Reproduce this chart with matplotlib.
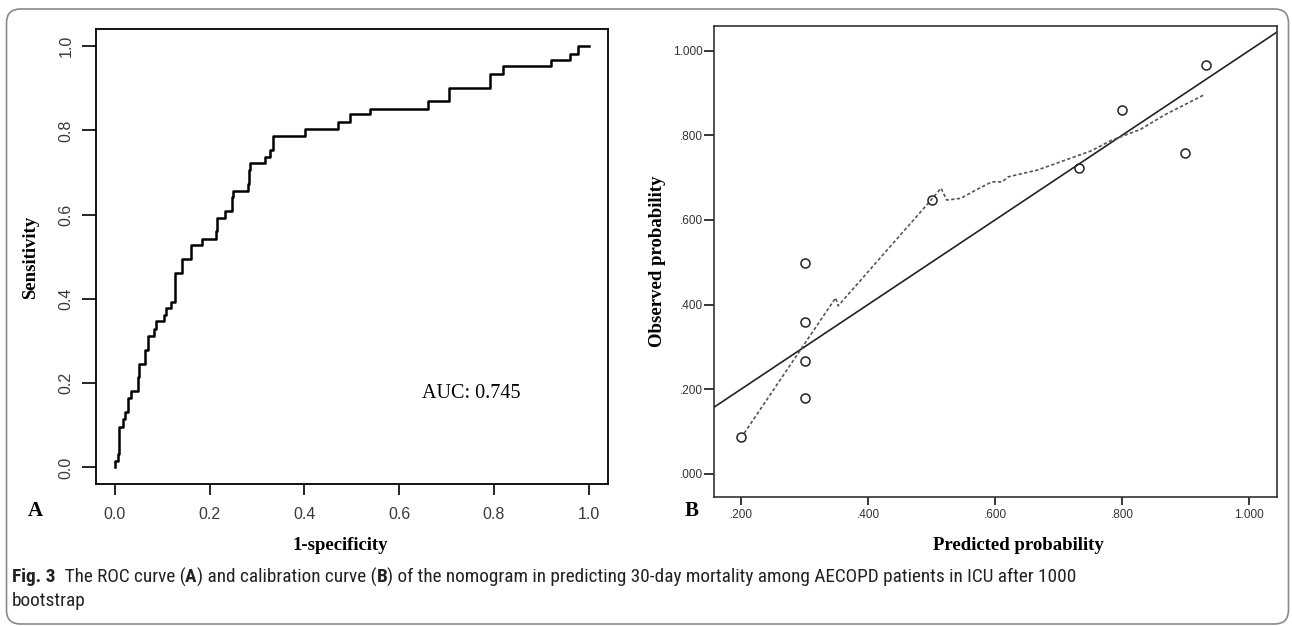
import matplotlib
matplotlib.use("Agg")
import matplotlib.pyplot as plt
from matplotlib import font_manager
from matplotlib.patches import FancyBboxPatch
from matplotlib.transforms import IdentityTransform

W, H = 1292, 626

# Panel A: ROC curve corners (1-specificity, sensitivity)
roc_fpr = [0.000, 0.000, 0.006, 0.008, 0.016, 0.022, 0.027, 0.034, 0.049, 0.051,
           0.064, 0.070, 0.083, 0.087, 0.103, 0.107, 0.119, 0.127, 0.142, 0.161,
           0.184, 0.213, 0.215, 0.233, 0.246, 0.248, 0.250, 0.281, 0.283, 0.285,
           0.317, 0.328, 0.334, 0.402, 0.470, 0.496, 0.539, 0.660, 0.705, 0.792,
           0.818, 0.920, 0.961, 0.978, 1.000]
roc_tpr = [0.000, 0.015, 0.031, 0.096, 0.116, 0.131, 0.164, 0.182, 0.214, 0.245,
           0.279, 0.311, 0.328, 0.347, 0.361, 0.378, 0.393, 0.461, 0.494, 0.527,
           0.543, 0.561, 0.592, 0.608, 0.624, 0.641, 0.656, 0.672, 0.705, 0.723,
           0.738, 0.753, 0.786, 0.803, 0.821, 0.838, 0.852, 0.869, 0.901, 0.934,
           0.953, 0.967, 0.982, 1.000, 1.000]
auc_label = "AUC: 0.745"
roc_ticks = [0.0, 0.2, 0.4, 0.6, 0.8, 1.0]

# Panel B: calibration points and smoothed curve
cal_pred = [0.200, 0.300, 0.300, 0.300, 0.300, 0.500, 0.732, 0.800, 0.899, 0.932]
cal_obs = [0.086, 0.499, 0.360, 0.266, 0.179, 0.648, 0.722, 0.859, 0.758, 0.965]
fit_x = [0.205, 0.349, 0.353, 0.498, 0.515, 0.524, 0.546, 0.569, 0.595, 0.611,
         0.621, 0.667, 0.725, 0.751, 0.783, 0.829, 0.868, 0.931]
fit_y = [0.096, 0.416, 0.397, 0.645, 0.675, 0.647, 0.651, 0.670, 0.690, 0.690,
         0.702, 0.718, 0.749, 0.763, 0.788, 0.814, 0.849, 0.897]
cal_xticks = [0.2, 0.4, 0.6, 0.8, 1.0]
cal_yticks = [0.0, 0.2, 0.4, 0.6, 0.8, 1.0]

caption_parts = [("Fig. 3", "bold"), ("  The ROC curve (", "normal"), ("A", "bold"),
                 (") and calibration curve (", "normal"), ("B", "bold"),
                 (") of the nomogram in predicting 30-day mortality among AECOPD "
                  "patients in ICU after 1000", "normal")]
caption_line2 = "bootstrap"

serif = "Liberation Serif"
sans = "Liberation Sans"
installed = {f.name for f in font_manager.fontManager.ttflist}
cap_font = next((n for n in ["Liberation Sans Narrow", "Roboto Condensed",
                             "Open Sans Condensed", "Noto Sans"] if n in installed), sans)


def fx(px):
    return px / W


def fy(py):
    return 1 - py / H


fig = plt.figure(figsize=(W / 100, H / 100), dpi=100)
fig.patch.set_facecolor("white")

# rounded frame around the whole figure
frame = FancyBboxPatch((6.5, 2), 1282, 615, boxstyle="round,pad=0,rounding_size=14",
                       transform=IdentityTransform(), fill=False, ec="#8a8a8a", lw=1.2)
fig.patches.append(frame)

# ---- Panel A ----
axA = fig.add_axes([fx(96), fy(484.3), fx(607.7) - fx(96), fy(29.3) - fy(484.3)])
axA.step(roc_fpr, roc_tpr, where="post", color="black", lw=1.8)
axA.set_xlim(-0.04, 1.04)
axA.set_ylim(-0.04, 1.04)
axA.set_xticks(roc_ticks)
axA.set_yticks(roc_ticks)
axA.set_xticklabels([f"{t:.1f}" for t in roc_ticks], family=sans, fontsize=11.5, color="#3a3a3a")
axA.set_yticklabels([f"{t:.1f}" for t in roc_ticks], family=sans, fontsize=11.5, color="#3a3a3a",
                    rotation=90, va="center")
axA.tick_params(axis="x", length=8, width=1.2, pad=8)
axA.tick_params(axis="y", length=10, width=1.2, pad=6)
for s in axA.spines.values():
    s.set_linewidth(1.3)
axA.text(0.752, 0.175, auc_label, family=serif, fontsize=14.5, ha="center", va="center")

fig.text(fx(31), fy(257), "Sensitivity", family=serif, fontweight="bold", fontsize=13.5,
         rotation=90, ha="center", va="center")
fig.text(fx(340), fy(545), "1-specificity", family=serif, fontweight="bold", fontsize=13.5,
         ha="center", va="center")
fig.text(fx(35), fy(511), "A", family=serif, fontweight="bold", fontsize=15,
         ha="center", va="center")

# ---- Panel B ----
axB = fig.add_axes([fx(713.7), fy(496.7), fx(1277) - fx(713.7), fy(25.7) - fy(496.7)])
axB.axline((0, 0), slope=1, color="#222222", lw=1.2)
axB.plot(fit_x, fit_y, color="#555555", lw=1.2, ls=(0, (2, 1.4)))
axB.plot(cal_pred, cal_obs, ls="none", marker="o", ms=6.5, mfc="none", mec="#222222", mew=1.1)
axB.set_xlim(0.157, 1.044)
axB.set_ylim(-0.054, 1.059)


def spss_fmt(v):
    s = f"{v:.3f}"
    return s[1:] if s.startswith("0") else s


axB.set_xticks(cal_xticks)
axB.set_yticks(cal_yticks)
axB.set_xticklabels([spss_fmt(t) for t in cal_xticks], family=sans, fontsize=8.5, color="#333333")
axB.set_yticklabels([spss_fmt(t) for t in cal_yticks], family=sans, fontsize=8.5, color="#333333")
axB.tick_params(axis="x", length=6, width=1.1, pad=3)
axB.tick_params(axis="y", length=7, width=1.1, pad=1)
for s in axB.spines.values():
    s.set_linewidth(1.2)
    s.set_color("#333333")

fig.text(fx(657), fy(261), "Observed probability", family=serif, fontweight="bold",
         fontsize=13.5, rotation=90, ha="center", va="center")
fig.text(fx(1018), fy(545), "Predicted probability", family=serif, fontweight="bold",
         fontsize=13.5, ha="center", va="center")
fig.text(fx(691.7), fy(511), "B", family=serif, fontweight="bold", fontsize=15,
         ha="center", va="center")

# ---- Caption: size chosen so the first line spans the same width ----
renderer = fig.canvas.get_renderer()
target_w = 1071 - 12


def place_line(parts, x0, y, size, draw=True):
    x = x0
    made = []
    for txt, weight in parts:
        t = fig.text(fx(x), fy(y), txt, family=cap_font, fontweight=weight, fontsize=size,
                     ha="left", va="center", color="#222222")
        x += t.get_window_extent(renderer=renderer).width
        made.append(t)
    if not draw:
        for t in made:
            t.remove()
    return x - x0


probe = place_line(caption_parts, 12, 577, 10, draw=False)
cap_size = 10 * target_w / probe
place_line(caption_parts, 12, 577, cap_size)
fig.text(fx(12), fy(601), caption_line2, family=cap_font, fontsize=cap_size,
         ha="left", va="center", color="#222222")

fig.savefig("out.png", dpi=100, facecolor="white")
